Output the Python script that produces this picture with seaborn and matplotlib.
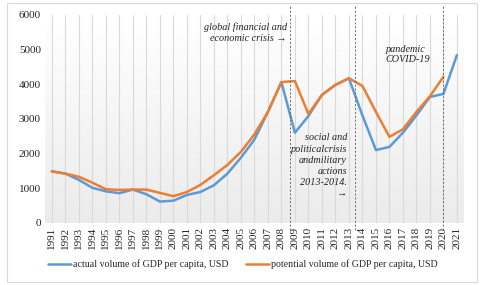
import numpy as np
import pandas as pd
import matplotlib
matplotlib.use("Agg")
import matplotlib.pyplot as plt
import seaborn as sns

years = list(range(1991, 2022))
actual = [1490, 1420, 1240, 1010, 910, 855, 960, 825, 615, 640, 805, 890, 1085,
          1420, 1880, 2400, 3200, 4060, 2600, 3080, 3690, 3980, 4170, 3100, 2100,
          2190, 2600, 3100, 3630, 3720, 4840]
potential = [1480, 1420, 1330, 1160, 970, 950, 960, 960, 865, 770, 890, 1095, 1375,
             1670, 2050, 2550, 3200, 4060, 4090, 3140, 3690, 3980, 4170, 3950, 3200,
             2480, 2700, 3200, 3650, 4210]
labels = ["actual volume of GDP per capita, USD",
          "potential volume of GDP per capita, USD"]
crisis_x = [2008.6, 2013.45, 2020]

df = pd.concat([
    pd.DataFrame({"year": years, "value": actual, "series": labels[0]}),
    pd.DataFrame({"year": years[:len(potential)], "value": potential, "series": labels[1]}),
])

sns.set_style("white")
plt.rcParams['font.family'] = ['Liberation Serif', 'DejaVu Serif']

fig = plt.figure(figsize=(4.8, 2.85), dpi=100)
ax = fig.add_axes([0.094, 0.218, 0.872, 0.73])

# soft gradient background like the source chart
grad = np.linspace(0.92, 1.0, 256).reshape(-1, 1)
ax.imshow(grad, extent=[1990.5, 2021.5, 0, 6000], aspect='auto', cmap='gray',
          vmin=0, vmax=1, origin='lower', zorder=0)

for y in years:
    ax.axvline(y, color='#d9d9d9', lw=0.8, zorder=1)

sns.lineplot(data=df, x="year", y="value", hue="series",
             palette=["#5B9BD5", "#ED7D31"], linewidth=1.8, ax=ax, zorder=3)

for x in crisis_x:
    ax.plot([x, x], [-200, 6250], ls=(0, (2, 2)), color='#666666', lw=0.7,
            clip_on=False, zorder=4)

ax.set_xlim(1990.5, 2021.5)
ax.set_ylim(0, 6000)
ax.set_yticks(range(0, 6001, 1000))
ax.set_xticks(years)
ax.set_xticklabels(years, rotation=90)
ax.tick_params(axis='both', labelsize=8, length=0, pad=3)
ax.set_xlabel("")
ax.set_ylabel("")
for s in ax.spines.values():
    s.set_visible(False)

tk = dict(fontsize=7.3, style='italic', color='#222222', zorder=5)
ax.text(2008.4, 5770, "global financial and\neconomic crisis \u2192",
        ha='right', va='top', linespacing=1.25, **tk)
ax.text(2015.7, 5140, "pandemic\nCOVID-19", ha='left', va='top', linespacing=1.25, **tk)
ax.text(2012.85, 2580, "social and\npoliticalcrisis\nandmilitary\nactions\n2013-2014.\n\u2192",
        ha='right', va='top', linespacing=1.3, **tk)

ax.legend(handles=ax.get_legend_handles_labels()[0], labels=labels,
          loc='center', bbox_to_anchor=(0.472, -0.2), ncol=2,
          frameon=False, fontsize=7.1, handlelength=2.35, columnspacing=1.8,
          handletextpad=0.15)

fig.patches.append(plt.Rectangle((0.014, 0.01), 0.98, 0.98, transform=fig.transFigure,
                                 fill=False, edgecolor='#d9d9d9', lw=0.8))
fig.savefig("out.png", dpi=100)
